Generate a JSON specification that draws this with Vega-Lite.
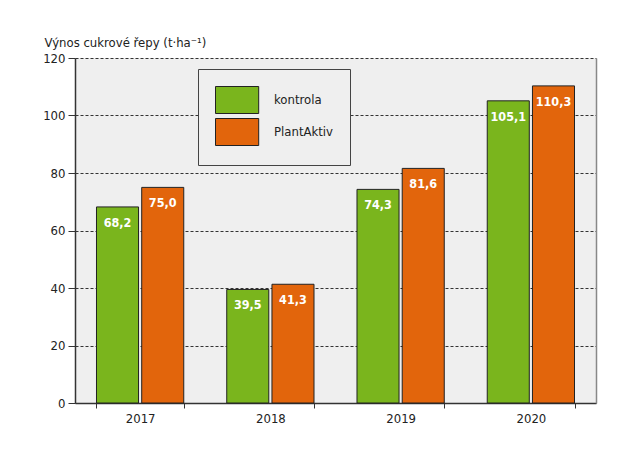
{
  "$schema": "https://vega.github.io/schema/vega-lite/v6.json",
  "autosize": {"type": "none"},
  "padding": {"left": 75, "top": 58, "right": 31, "bottom": 53},
  "width": 521,
  "height": 345,
  "background": "white",
  "config": {
    "font": "DejaVu Sans Condensed, sans-serif",
    "view": {"fill": "#efefef", "stroke": null},
    "locale": {"number": {"decimal": ",", "thousands": " ", "grouping": [3], "currency": ["", ""]}},
    "axis": {"labelColor": "#222", "titleColor": "#222", "domainColor": "#333", "tickColor": "#333", "labelFontSize": 13}
  },
  "data": {
    "values": [
      {"rok": "2017", "varianta": "kontrola", "vynos": 68.2},
      {"rok": "2017", "varianta": "PlantAktiv", "vynos": 75.0},
      {"rok": "2018", "varianta": "kontrola", "vynos": 39.5},
      {"rok": "2018", "varianta": "PlantAktiv", "vynos": 41.3},
      {"rok": "2019", "varianta": "kontrola", "vynos": 74.3},
      {"rok": "2019", "varianta": "PlantAktiv", "vynos": 81.6},
      {"rok": "2020", "varianta": "kontrola", "vynos": 105.1},
      {"rok": "2020", "varianta": "PlantAktiv", "vynos": 110.3}
    ]
  },
  "encoding": {
    "x": {
      "field": "rok", "type": "nominal",
      "scale": {"paddingInner": 0.33, "paddingOuter": 0.165},
      "axis": {"title": null, "labelAngle": 0, "tickBand": "extent", "tickSize": 5, "labelPadding": 4, "domainWidth": 1.5}
    },
    "xOffset": {
      "field": "varianta", "type": "nominal",
      "sort": ["kontrola", "PlantAktiv"],
      "scale": {"paddingInner": 0.07}
    },
    "y": {
      "field": "vynos", "type": "quantitative",
      "scale": {"domain": [0, 120]},
      "axis": {
        "values": [0, 20, 40, 60, 80, 100, 120],
        "title": "Výnos cukrové řepy (t·ha⁻¹)",
        "titleAngle": 0, "titleAlign": "left", "titleBaseline": "alphabetic",
        "titleX": -31, "titleY": -12, "titleFontSize": 13, "titleFontWeight": "normal",
        "tickSize": 7, "labelPadding": 3,
        "grid": true, "gridColor": "#333", "gridDash": [3, 2], "gridWidth": 1,
        "domainWidth": 1.5
      }
    }
  },
  "layer": [
    {
      "mark": {"type": "bar", "stroke": "#222", "strokeWidth": 1},
      "encoding": {
        "color": {
          "field": "varianta", "type": "nominal",
          "sort": ["kontrola", "PlantAktiv"],
          "scale": {"domain": ["kontrola", "PlantAktiv"], "range": ["#7ab51d", "#e2650c"]},
          "legend": {
            "title": null,
            "orient": "none", "legendX": 123, "legendY": 11,
            "fillColor": "#efefef", "strokeColor": "#444",
            "padding": 17,
            "symbolType": "M-1,-1H2.2V1H-1Z",
            "symbolSize": 729,
            "symbolStrokeColor": "#222", "symbolStrokeWidth": 1,
            "symbolOpacity": 1,
            "labelFontSize": 13, "labelColor": "#222", "labelOffset": 31,
            "rowPadding": 0
          }
        }
      }
    },
    {
      "mark": {"type": "text", "color": "white", "fontWeight": "bold", "fontSize": 12.5, "baseline": "middle", "dy": 16},
      "encoding": {
        "text": {"field": "vynos", "type": "quantitative", "format": ".1f"},
        "y": {
          "field": "vynos", "type": "quantitative",
          "axis": {"orient": "right", "labels": false, "ticks": false, "grid": false, "title": null, "domainColor": "#888", "domainWidth": 1.5}
        }
      }
    }
  ],
  "resolve": {"axis": {"y": "independent"}}
}
